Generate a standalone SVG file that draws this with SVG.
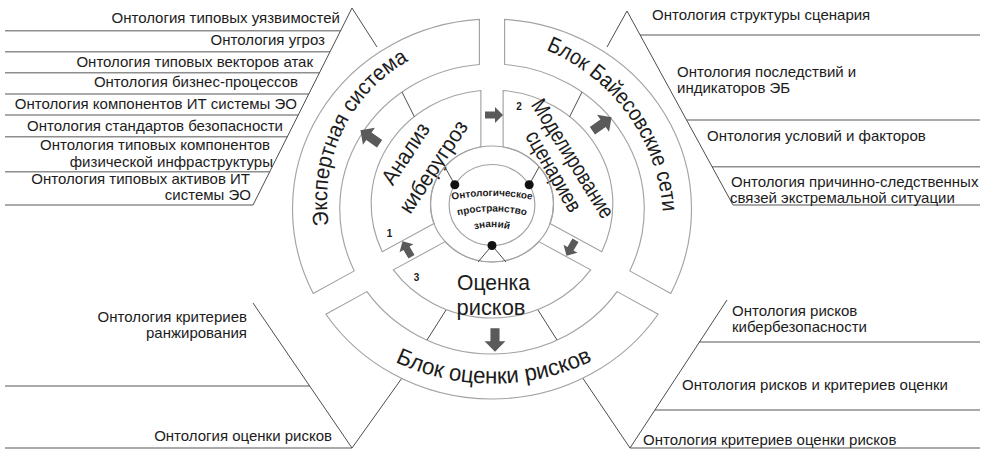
<svg xmlns="http://www.w3.org/2000/svg" width="1005" height="459" viewBox="0 0 1005 459">
<style>
text{font-family:"Liberation Sans",Arial,sans-serif;fill:#1c1c1c}
.lst{font-size:15px}
.big{font-size:22px}
.cen{font-size:10px;font-weight:bold}
.num{font-size:10px;font-weight:bold}
.seg{fill:#fff;stroke:#a3a3a3;stroke-width:1.1}
.ring{fill:none;stroke:#a3a3a3;stroke-width:1.1}
.hl{stroke:#8e8e8e;stroke-width:1.5;fill:none}
.dl{stroke:#4d4d4d;stroke-width:1;fill:none}
.arr{fill:#5a5a5a}
.dot{fill:#111}
</style>
<defs>
<path id="arw" d="M -9 -3.5 L 1 -3.5 L 1 -8 L 9 0 L 1 8 L 1 3.5 L -9 3.5 Z"/>
<path id="tp-expert" d="M 329 225 A 160 160 0 0 1 410 60"/>
<path id="tp-bayes" d="M 546 50 A 190 190 0 0 1 663 214"/>
<path id="tp-risk" d="M 395 362 A 230 230 0 0 0 594 360"/>
<path id="tp-c1" d="M 432 204.75 A 210 210 0 0 1 552 204.75"/>
<path id="tp-c2" d="M 437 221.95 A 150 150 0 0 1 547 221.95"/>
<path id="tp-c3" d="M 457 238.27 A 60 60 0 0 1 527 238.27"/>
</defs>
<rect width="1005" height="459" fill="#fff"/>

<g id="list-expert">
<path class="hl" d="M5 30.7H340.6M5 51.7H330M5 72.7H319.5M5 94H308.8M5 115H298.2M5 136.7H287.3M5 171.7H269.7M5 205H253"/>
<path class="dl" d="M377 47L352 8L253 205"/>
<g class="lst" text-anchor="end">
<text x="340" y="23">Онтология типовых уязвимостей</text>
<text x="325" y="45">Онтология угроз</text>
<text x="313" y="66.5">Онтология типовых векторов атак</text>
<text x="298" y="87">Онтология бизнес-процессов</text>
<text x="297" y="109">Онтология компонентов ИТ системы ЭО</text>
<text x="283" y="131">Онтология стандартов безопасности</text>
<text x="270" y="150">Онтология типовых компонентов</text>
<text x="273" y="166.5">физической инфраструктуры</text>
<text x="250" y="184">Онтология типовых активов ИТ</text>
<text x="251" y="200">системы ЭО</text>
</g>
</g>

<g id="list-bayes">
<path class="hl" d="M640.1 35H980M686.6 120H980M712.1 166.7H980M733 205H980"/>
<path class="dl" d="M607 47L627 11L733 205"/>
<g class="lst">
<text x="652" y="20">Онтология структуры сценария</text>
<text x="677" y="77">Онтология последствий и</text>
<text x="677" y="93">индикаторов ЭБ</text>
<text x="707" y="141">Онтология условий и факторов</text>
<text x="731" y="187">Онтология причинно-следственных</text>
<text x="730" y="203">связей экстремальной ситуации</text>
</g>
</g>

<g id="list-risk-left">
<path class="hl" d="M5 386H310M5 448H352"/>
<path class="dl" d="M253 303L352 448L402 378"/>
<g class="lst" text-anchor="end">
<text x="247" y="322">Онтология критериев</text>
<text x="247" y="338">ранжирования</text>
<text x="332" y="441">Онтология оценки рисков</text>
</g>
</g>

<g id="list-risk-right">
<path class="hl" d="M699 342H980M655 410H980M630 448H980"/>
<path class="dl" d="M727 300L630 448L582 377"/>
<g class="lst">
<text x="732" y="316">Онтология рисков</text>
<text x="732" y="332">кибербезопасности</text>
<text x="682" y="390">Онтология рисков и критериев оценки</text>
<text x="643" y="445">Онтология критериев оценки рисков</text>
</g>
</g>

<g id="node-expert">
<path class="seg" transform="translate(492,209) scale(1.05,1)" d="M -170.22 84.42 A 190 190 0 0 1 -12 -189.62 L -12 -144.5 A 145 145 0 0 0 -131.14 61.86 Z"/>
<text class="big"><textPath href="#tp-expert" textLength="194" lengthAdjust="spacingAndGlyphs">Экспертная система</textPath></text>
</g>
<g id="node-bayes">
<path class="seg" transform="translate(492,209) scale(1.05,1)" d="M 12 -189.62 A 190 190 0 0 1 170.22 84.42 L 131.14 61.86 A 145 145 0 0 0 12 -144.5 Z"/>
<text class="big"><textPath href="#tp-bayes" textLength="210" lengthAdjust="spacingAndGlyphs">Блок Байесовские сети</textPath></text>
</g>
<g id="node-riskblock">
<path class="seg" transform="translate(492,209) scale(1.05,1)" d="M 158.22 105.2 A 190 190 0 0 1 -158.22 105.2 L -119.14 82.64 A 145 145 0 0 0 119.14 82.64 Z"/>
<text class="big" style="font-size:23px"><textPath href="#tp-risk" textLength="204" lengthAdjust="spacingAndGlyphs">Блок оценки рисков</textPath></text>
</g>

<g id="node-analysis">
<path class="seg" transform="translate(492,204) scale(1.06,1)" d="M -103.56 47.67 A 114 114 0 0 1 -10.5 -113.52 L -10.5 -57.04 A 58 58 0 0 0 -54.65 19.43 Z"/>
<text class="big" transform="translate(405.5,153.5) rotate(-56.5)" y="7.5" text-anchor="middle" textLength="69" lengthAdjust="spacingAndGlyphs">Анализ</text>
<text class="big" transform="translate(434.5,167.5) rotate(-56.5)" y="6" text-anchor="middle" textLength="106" lengthAdjust="spacingAndGlyphs">киберугроз</text>
<text class="num" x="389.5" y="236.5" text-anchor="middle">1</text>
</g>
<g id="node-modeling">
<path class="seg" transform="translate(492,204) scale(1.06,1)" d="M 10.5 -113.52 A 114 114 0 0 1 103.56 47.67 L 54.65 19.43 A 58 58 0 0 0 10.5 -57.04 Z"/>
<text class="big" transform="translate(573,158.5) rotate(58)" y="7.5" text-anchor="middle" textLength="136" lengthAdjust="spacingAndGlyphs">Моделирование</text>
<text class="big" transform="translate(552.5,172) rotate(60)" y="6" text-anchor="middle" textLength="90" lengthAdjust="spacingAndGlyphs">сценариев</text>
<text class="num" x="519" y="109.5" text-anchor="middle">2</text>
</g>
<g id="node-riskassess">
<path class="seg" transform="translate(492,204) scale(1.06,1)" d="M 93.06 65.85 A 114 114 0 0 1 -93.06 65.85 L -44.15 37.61 A 58 58 0 0 0 44.15 37.61 Z"/>
<text class="big" x="493.5" y="290" text-anchor="middle" textLength="73" lengthAdjust="spacingAndGlyphs">Оценка</text>
<text class="big" x="491" y="315" text-anchor="middle" textLength="69" lengthAdjust="spacingAndGlyphs">рисков</text>
<text class="num" x="416.5" y="280.5" text-anchor="middle">3</text>
</g>

<g id="node-knowledge">
<g transform="translate(492,204) scale(1.06,1)">
<circle class="ring" r="58"/>
<circle class="ring" cy="1" r="40.5"/>
</g>
<text class="cen" text-anchor="middle"><textPath href="#tp-c1" startOffset="50%">Онтологическое</textPath></text>
<text class="cen" text-anchor="middle"><textPath href="#tp-c2" startOffset="50%">пространство</textPath></text>
<text class="cen" text-anchor="middle"><textPath href="#tp-c3" startOffset="50%">знаний</textPath></text>
</g>

<g id="connectors">
<path class="dl" d="M402 92L414.4 116.8M582 92L569.6 116.8M446 310L427 340M538 310L557 340"/>
<path class="dl" d="M454.8 184.8L445 167M529.2 184.8L539 167M492 245.5L478 262M492 245.5L506 262"/>
<circle class="dot" cx="454.8" cy="184.8" r="4.5"/>
<circle class="dot" cx="529.2" cy="184.8" r="4.5"/>
<circle class="dot" cx="492" cy="245.5" r="4.5"/>
<use href="#arw" class="arr" transform="translate(494,115)"/>
<use href="#arw" class="arr" transform="translate(571,248) rotate(120)"/>
<use href="#arw" class="arr" transform="translate(407,249) rotate(240)"/>
<use href="#arw" class="arr" transform="translate(370,137) rotate(215) scale(1.3)"/>
<use href="#arw" class="arr" transform="translate(602,124) rotate(325) scale(1.3)"/>
<use href="#arw" class="arr" transform="translate(495,340) rotate(90) scale(1.3)"/>
</g>
</svg>
